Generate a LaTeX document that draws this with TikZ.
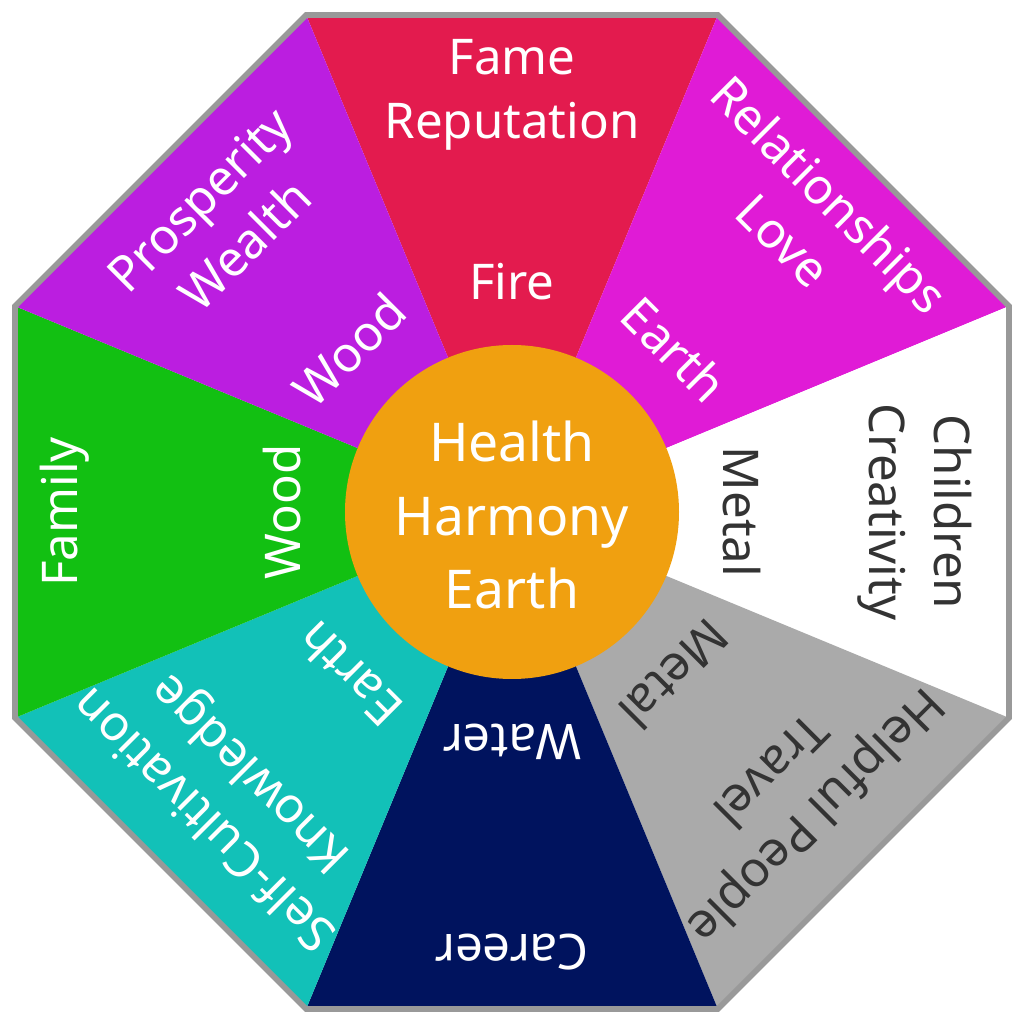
\documentclass[tikz,border=0pt]{standalone}
\usepackage{fontspec}
\setmainfont{Noto Sans}
\definecolor{cfame}{HTML}{E31B4E}
\definecolor{crel}{HTML}{E01BD6}
\definecolor{cchild}{HTML}{FFFFFF}
\definecolor{chelp}{HTML}{AAAAAA}
\definecolor{ccar}{HTML}{00135E}
\definecolor{cself}{HTML}{12C1B8}
\definecolor{cfam}{HTML}{12C012}
\definecolor{cpros}{HTML}{BB1EE0}
\definecolor{ccen}{HTML}{F0A010}
\definecolor{dtext}{HTML}{333333}
\tikzset{lbl/.style={align=center,font=\fontsize{35}{46}\selectfont,inner sep=0pt}}
\begin{document}
\begin{tikzpicture}[x=0.025cm,y=0.025cm]
\useasboundingbox (-512,-512) rectangle (512,512);
\foreach \k/\c/\tc/\outer/\el/\ro in {
0/cfame/white/{Fame\\Reputation}/Fire/417,
1/crel/white/{Relationships\\Love}/Earth/417,
2/cchild/dtext/{Children\\Creativity}/Metal/403,
3/chelp/dtext/{Helpful People\\Travel}/Metal/400,
4/ccar/white/{Career}/Water/440,
5/cself/white/{Self-Cultivation\\Knowledge}/Earth/400,
6/cfam/white/{Family}/Wood/447,
7/cpros/white/{Prosperity\\Wealth}/Wood/410}{
  \pgfmathsetmacro\ang{90-45*\k}
  \fill[\c] (0,0) -- (\ang+22.5:538) -- (\ang-22.5:538) -- cycle;
  \node[lbl,text=\tc,rotate=-45*\k] (out\k) at (\ang:\ro) {\outer};
  \node[lbl,text=\tc,rotate=-45*\k] (el\k) at (\ang:230) {\el};
}
\draw[line width=4pt,color=chelp!90!black,line join=miter] (22.5:538) \foreach \i in {1,...,7}{ -- (22.5+45*\i:538)} -- cycle;
\node[circle,fill=ccen,minimum size=334*0.025cm,inner sep=0pt] (c) at (0,0) {};
\node[lbl,text=white,font=\fontsize{38}{52}\selectfont] (ct) at (0,-3) {Health\\Harmony\\Earth};
\end{tikzpicture}
\end{document}
